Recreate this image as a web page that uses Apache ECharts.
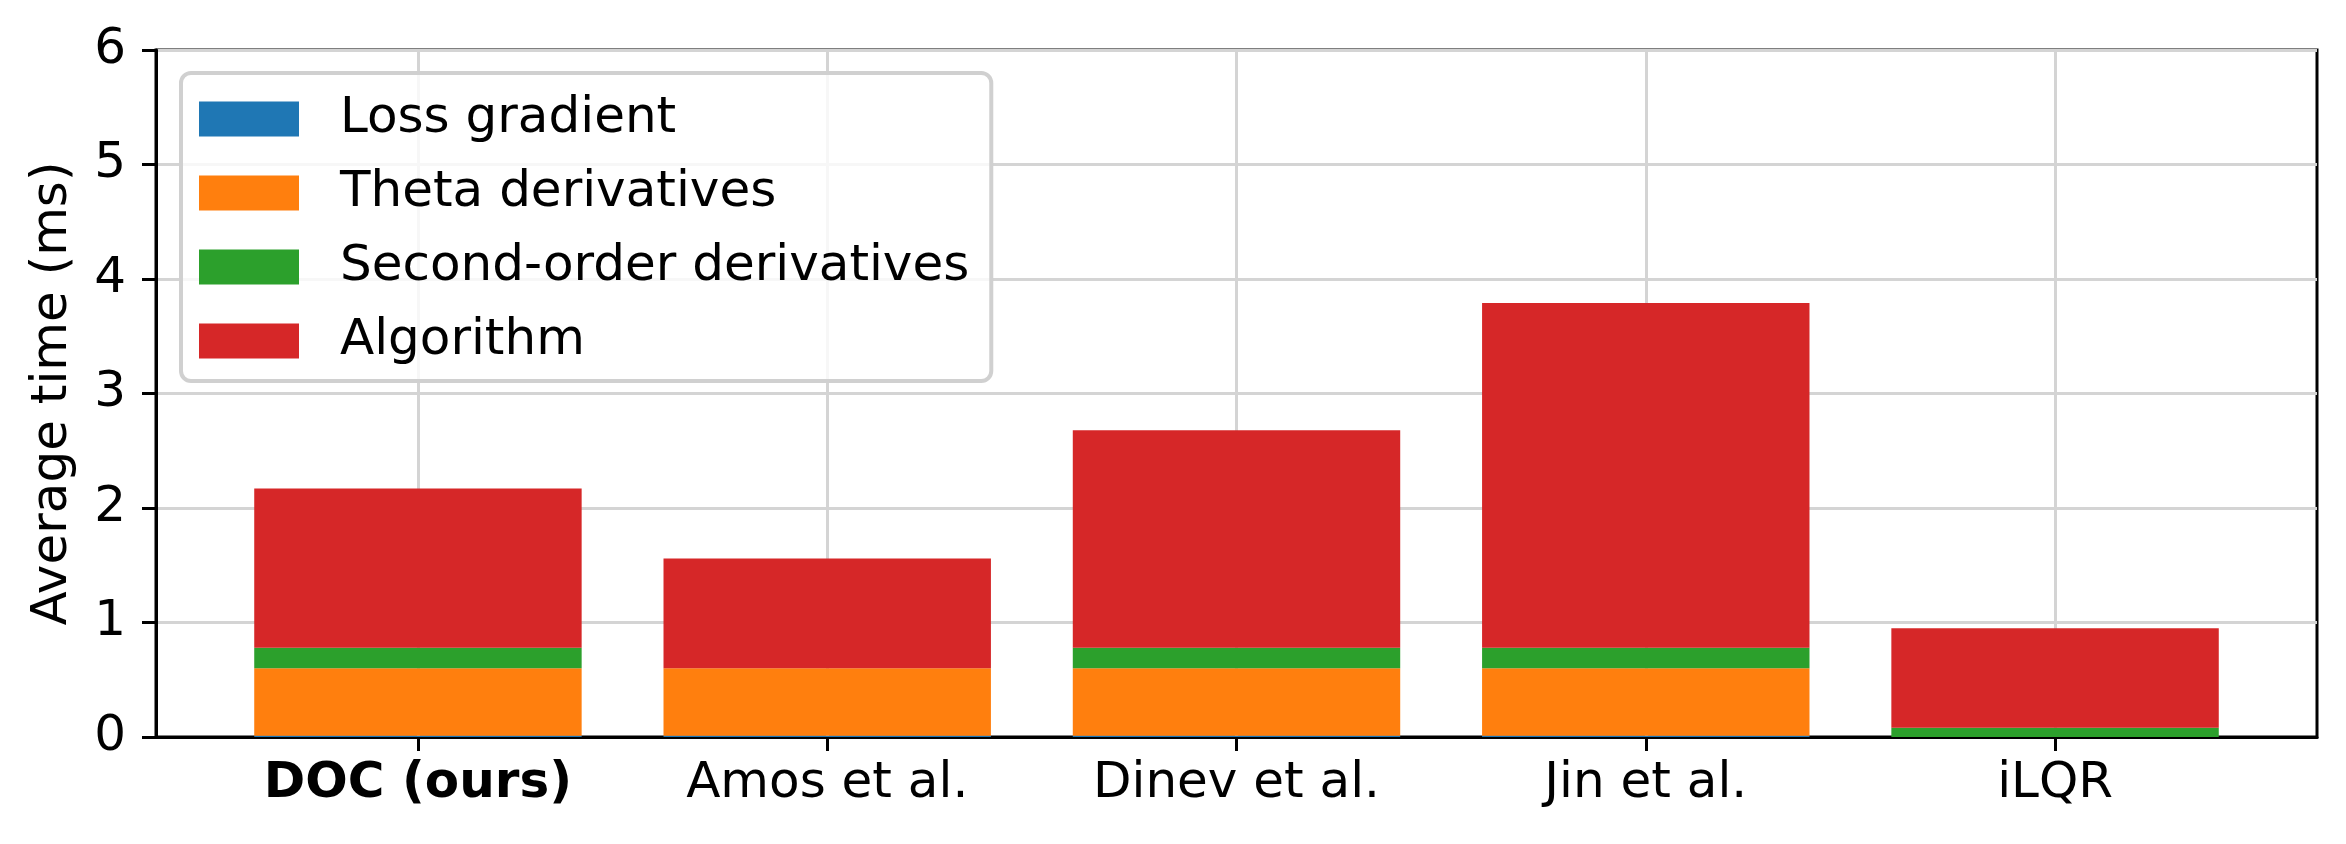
<!DOCTYPE html>
<html>
<head>
<meta charset="utf-8">
<script src="https://cdn.jsdelivr.net/npm/echarts@6/dist/echarts.min.js"></script>
<style>
html,body{margin:0;padding:0;background:#fff;}
#chart{width:2346px;height:844px;}
</style>
</head>
<body>
<div id="chart"></div>
<script>
const categories = ['DOC (ours)', 'Amos et al.', 'Dinev et al.', 'Jin et al.', 'iLQR'];
const lossGradient = [0.01, 0.01, 0.01, 0.01, 0.0];
const thetaDerivatives = [0.59, 0.59, 0.59, 0.59, 0.0];
const secondOrder = [0.18, 0.0, 0.18, 0.18, 0.08];
const algorithm = [1.39, 0.96, 1.90, 3.01, 0.87];
const yTicks = [0, 1, 2, 3, 4, 5, 6];

const FONT = 'DejaVu Sans';
const chart = echarts.init(document.getElementById('chart'), null, {renderer: 'canvas'});

// frame: left 156, right edge 2317; category bands 409.3 wide with 0.14-band margin each side
const FRAME_L = 156, FRAME_R = 29, TOP = 50, BOTTOM = 107;
const BAND = (2346 - FRAME_L - FRAME_R) / 5.28;
const BAR_L = FRAME_L + 0.14 * BAND, BAR_R = FRAME_R + 0.14 * BAND;

function barSeries(name, arr, color) {
  return {
    name: name, type: 'bar', stack: 'total', data: arr,
    xAxisIndex: 1, yAxisIndex: 1,
    barWidth: '80%', itemStyle: {color: color}, z: 3,
    emphasis: {disabled: true}, silent: true
  };
}

const option = {
  backgroundColor: '#ffffff',
  animation: false,
  grid: [
    {left: FRAME_L, right: FRAME_R, top: TOP, bottom: BOTTOM, show: true, borderColor: '#000', borderWidth: 3, backgroundColor: 'transparent'},
    {left: BAR_L, right: BAR_R, top: TOP, bottom: BOTTOM}
  ],
  legend: {
    data: ['Loss gradient', 'Theta derivatives', 'Second-order derivatives', 'Algorithm'],
    orient: 'vertical', left: 181, top: 73,
    itemWidth: 100, itemHeight: 35, itemGap: 24,
    padding: [21, 22, 15, 18],
    backgroundColor: 'rgba(255,255,255,0.8)',
    borderColor: '#d0d0d0', borderWidth: 4, borderRadius: 10,
    icon: 'rect',
    textStyle: {fontFamily: FONT, fontSize: 50, color: '#000', padding: [0, 0, 0, 36]},
    selectedMode: false, z: 10
  },
  xAxis: [
    {
      type: 'value', gridIndex: 0, min: 0, max: 1,
      axisLine: {show: true, lineStyle: {color: '#000', width: 3}},
      axisTick: {show: false}, axisLabel: {show: false}, splitLine: {show: false}
    },
    {
      type: 'category', gridIndex: 1, data: categories,
      axisLine: {show: false},
      axisTick: {show: true, alignWithLabel: true, length: 14, lineStyle: {color: '#000', width: 3}},
      axisLabel: {
        show: true, margin: 22, interval: 0,
        fontFamily: FONT, fontSize: 50, color: '#000',
        formatter: function (v, i) {
          return i === 0 ? '{b|' + v + '}' : v;
        },
        rich: {b: {fontFamily: FONT, fontSize: 50, fontWeight: 'bold', color: '#000'}}
      },
      splitLine: {show: false}
    }
  ],
  yAxis: [
    {
      type: 'value', gridIndex: 0, min: yTicks[0], max: yTicks[yTicks.length - 1], interval: 1,
      name: 'Average time (ms)', nameLocation: 'middle', nameGap: 78,
      nameTextStyle: {fontFamily: FONT, fontSize: 50, color: '#000'},
      axisLine: {show: true, lineStyle: {color: '#000', width: 3}},
      axisTick: {show: true, length: 14, lineStyle: {color: '#000', width: 3}},
      axisLabel: {fontFamily: FONT, fontSize: 50, color: '#000', margin: 30},
      splitLine: {show: true, lineStyle: {color: '#d4d4d4', width: 3}}
    },
    {
      type: 'value', gridIndex: 1, min: yTicks[0], max: yTicks[yTicks.length - 1], interval: 1,
      axisLine: {show: false}, axisTick: {show: false}, axisLabel: {show: false}, splitLine: {show: false}
    }
  ],
  series: [
    {
      name: 'vgrid', type: 'line', data: [], xAxisIndex: 1, yAxisIndex: 1, z: 1, silent: true,
      markLine: {
        silent: true, symbol: ['none', 'none'], label: {show: false}, z: 1,
        lineStyle: {color: '#d4d4d4', width: 3, type: 'solid'},
        animation: false,
        data: categories.map(c => ({xAxis: c}))
      }
    },
    barSeries('Loss gradient', lossGradient, '#1f77b4'),
    barSeries('Theta derivatives', thetaDerivatives, '#ff7f0e'),
    barSeries('Second-order derivatives', secondOrder, '#2ca02c'),
    barSeries('Algorithm', algorithm, '#d62728')
  ]
};
chart.setOption(option);
</script>
</body>
</html>
